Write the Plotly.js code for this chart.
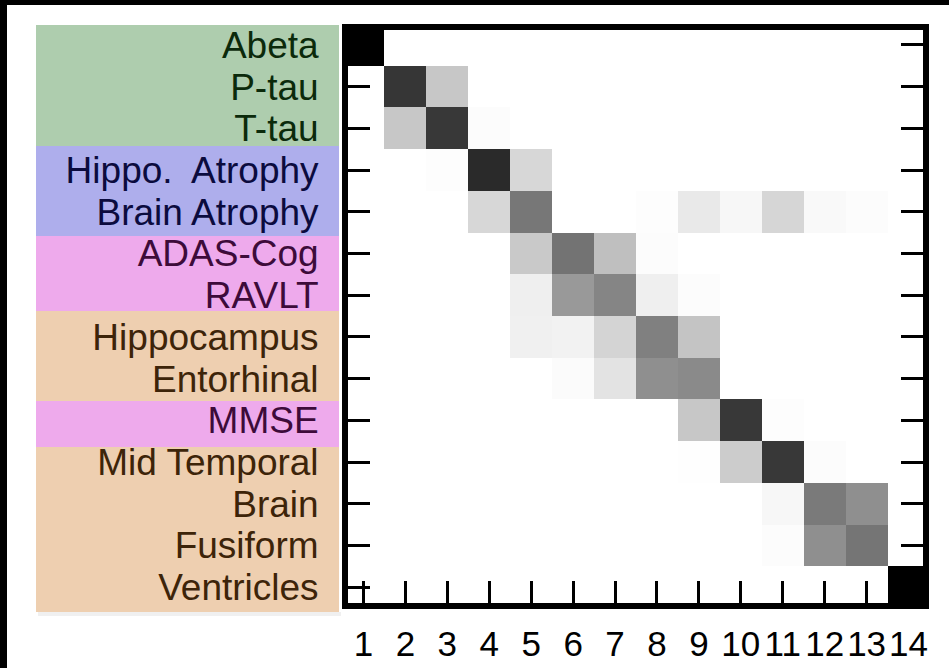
<!DOCTYPE html>
<html><head><meta charset="utf-8">
<script src="https://cdn.plot.ly/plotly-3.0.1.min.js"></script>
<style>html,body{margin:0;padding:0;background:#fff}</style>
</head><body><div id="chart" style="width:949px;height:668px"></div>
<script>
// ---- data ----
const rowLabels = ['Abeta','P-tau','T-tau','Hippo.\u00A0 Atrophy','Brain Atrophy','ADAS-Cog','RAVLT',
  'Hippocampus','Entorhinal','MMSE','Mid Temporal','Brain','Fusiform','Ventricles'];
const rowGroups = ['bio','bio','bio','atr','atr','cog','cog','mri','mri','cog','mri','mri','mri','mri'];
const colLabels = ['1','2','3','4','5','6','7','8','9','10','11','12','13','14'];
const r01 = [1,0,0,0,0,0,0,0,0,0,0,0,0,0];
const r02 = [0,0.79,0.22,0,0,0,0,0,0,0,0,0,0,0];
const r03 = [0,0.22,0.78,0.012,0,0,0,0,0,0,0,0,0,0];
const r04 = [0,0,0.008,0.835,0.157,0,0,0,0,0,0,0,0,0];
const r05 = [0,0,0,0.157,0.533,0,0,0.006,0.086,0.031,0.16,0.024,0.012,0];
const r06 = [0,0,0,0,0.21,0.55,0.25,0.012,0,0,0,0,0,0];
const r07 = [0,0,0,0,0.063,0.40,0.48,0.063,0.012,0,0,0,0,0];
const r08 = [0,0,0,0,0.06,0.05,0.17,0.50,0.23,0,0,0,0,0];
const r09 = [0,0,0,0,0,0.016,0.11,0.44,0.46,0,0,0,0,0];
const r10 = [0,0,0,0,0,0,0,0,0.22,0.78,0.008,0,0,0];
const r11 = [0,0,0,0,0,0,0,0,0.005,0.20,0.78,0.012,0,0];
const r12 = [0,0,0,0,0,0,0,0,0,0,0.03,0.52,0.44,0];
const r13 = [0,0,0,0,0,0,0,0,0,0,0.012,0.44,0.54,0];
const r14 = [0,0,0,0,0,0,0,0,0,0,0,0,0,1];

// ---- styling ----
const groupText = {bio:'#0b2a0b', atr:'#0b0b3e', cog:'#3d0b3a', mri:'#3d2409'};
const groupBox  = {bio:'#aecdae', atr:'#aeaeec', cog:'#eeaaec', mri:'#eecfb0'};

const W = 949, H = 668;
const M = {l:348, r:26, t:30, b:65};
const PW = W - M.l - M.r, PH = H - M.t - M.b;
const px = x => (x - M.l) / PW;
const py = y => (H - M.b - y) / PH;

const z = [r01,r02,r03,r04,r05,r06,r07,r08,r09,r10,r11,r12,r13,r14];
const idx = colLabels.map((_, i) => i + 1);

const trace = {
  type:'heatmap', x: idx, y: idx, z: z,
  zmin:0, zmax:1,
  colorscale:[[0,'#ffffff'],[1,'#000000']],
  showscale:false, hoverinfo:'skip'
};

// label background boxes (pixel bands)
const boxes = [
  {g:'bio', y0:25,  y1:146},
  {g:'atr', y0:146, y1:236},
  {g:'cog', y0:236, y1:311},
  {g:'mri', y0:311, y1:401},
  {g:'cog', y0:401, y1:447},
  {g:'mri', y0:447, y1:612}
];
const shapes = [];
// soft shadow
shapes.push({type:'rect', xref:'paper', yref:'paper', layer:'below',
  x0:px(38), x1:px(341), y0:py(612), y1:py(616), fillcolor:'#f0f0f0', line:{width:0}});
boxes.forEach(b => shapes.push({type:'rect', xref:'paper', yref:'paper', layer:'below',
  x0:px(36), x1:px(339), y0:py(b.y1), y1:py(b.y0),
  fillcolor:groupBox[b.g], line:{width:0}}));
// black picture frame bands (top and left)
shapes.push({type:'rect', xref:'paper', yref:'paper', layer:'above',
  x0:px(0), x1:px(W), y0:py(5), y1:py(0), fillcolor:'#000', line:{width:0}});
shapes.push({type:'rect', xref:'paper', yref:'paper', layer:'above',
  x0:px(0), x1:px(7), y0:py(H), y1:py(0), fillcolor:'#000', line:{width:0}});

const ytext = rowLabels.map((t, i) => '<span style="color:' + groupText[rowGroups[i]] + '">' + t + '</span>');

const layout = {
  width:W, height:H,
  margin:M,
  paper_bgcolor:'#ffffff', plot_bgcolor:'#ffffff',
  font:{family:'Liberation Sans, Arial, sans-serif', color:'#000'},
  xaxis:{
    range:[0.631, 14.345], tickvals:idx, ticktext:colLabels,
    ticks:'inside', ticklen:22, tickwidth:3, tickcolor:'#000',
    showline:true, linewidth:6, linecolor:'#000', mirror:true,
    showgrid:false, zeroline:false, fixedrange:true,
    tickfont:{size:35, color:'#000'}, ticklabelstandoff:5
  },
  yaxis:{
    range:[14.38, 0.644], tickvals:idx, ticktext:ytext,
    ticks:'inside', ticklen:22, tickwidth:3, tickcolor:'#000',
    showline:true, linewidth:6, linecolor:'#000', mirror:'ticks',
    showgrid:false, zeroline:false, fixedrange:true,
    tickfont:{size:37, color:'#000'}, ticklabelstandoff:16
  },
  shapes:shapes,
  showlegend:false
};

Plotly.newPlot('chart', [trace], layout, {staticPlot:true, displayModeBar:false});
</script>
</body></html>
